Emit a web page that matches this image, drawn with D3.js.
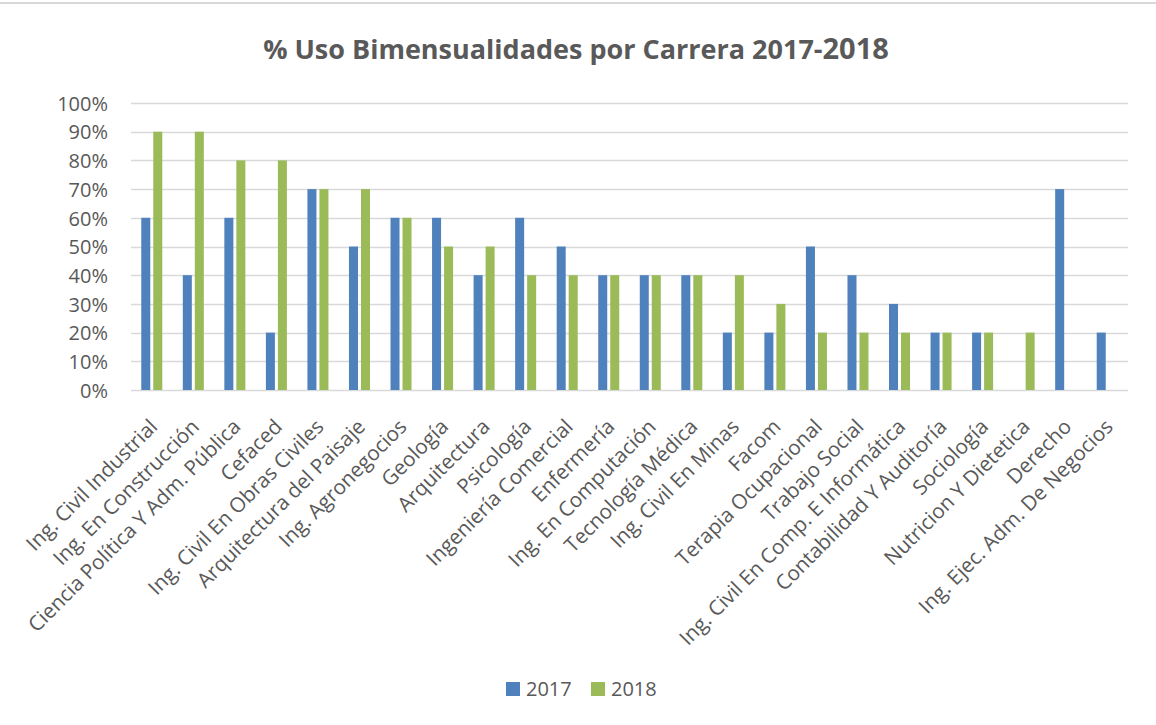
<!DOCTYPE html>
<html>
<head>
<meta charset="utf-8">
<script src="https://cdn.jsdelivr.net/npm/d3@7"></script>
<style>
  html, body { margin: 0; padding: 0; background: #fff; }
  svg { display: block; font-family: "Open Sans", sans-serif; }
</style>
</head>
<body>
<svg id="chart" width="1156" height="725"></svg>
<script>
const categories = [
  "Ing. Civil Industrial", "Ing. En Construcción", "Ciencia Política Y Adm. Pública",
  "Cefaced", "Ing. Civil En Obras Civiles", "Arquitectura del Paisaje",
  "Ing. Agronegocios", "Geología", "Arquitectura", "Psicología",
  "Ingeniería Comercial", "Enfermería", "Ing. En Computación", "Tecnología Médica",
  "Ing. Civil En Minas", "Facom", "Terapia Ocupacional", "Trabajo Social",
  "Ing. Civil En Comp. E Informática", "Contabilidad Y Auditoría", "Sociología",
  "Nutricion Y Dietetica", "Derecho", "Ing. Ejec. Adm. De Negocios"
];
const values2017 = [0.6, 0.4, 0.6, 0.2, 0.7, 0.5, 0.6, 0.6, 0.4, 0.6, 0.5, 0.4, 0.4, 0.4, 0.2, 0.2, 0.5, 0.4, 0.3, 0.2, 0.2, 0, 0.7, 0.2];
const values2018 = [0.9, 0.9, 0.8, 0.8, 0.7, 0.7, 0.6, 0.5, 0.5, 0.4, 0.4, 0.4, 0.4, 0.4, 0.4, 0.3, 0.2, 0.2, 0.2, 0.2, 0.2, 0.2, 0, 0];
const seriesNames = ["2017", "2018"];
const seriesColors = ["#4F81BD", "#9BBB59"];
const yTicks = [0, 0.1, 0.2, 0.3, 0.4, 0.5, 0.6, 0.7, 0.8, 0.9, 1.0];
const titleMain = "% Uso Bimensualidades por Carrera 2017-";
const titleTail = "2018";

const svg = d3.select("#chart");
const plotLeft = 131, plotRight = 1128, plotTop = 103, plotBottom = 390;
const textColor = "#595959";

// top border line
svg.append("rect").attr("x", 0).attr("y", 2).attr("width", 1156).attr("height", 2).attr("fill", "#d9d9d9");

const x = d3.scaleBand().domain(categories).range([plotLeft, plotRight]).paddingInner(0).paddingOuter(0);
const y = d3.scaleLinear().domain([0, 1]).range([plotBottom, plotTop]);

// gridlines
svg.append("g").selectAll("line").data(yTicks).join("line")
  .attr("x1", plotLeft).attr("x2", plotRight)
  .attr("y1", d => Math.round(y(d)) + 0.5).attr("y2", d => Math.round(y(d)) + 0.5)
  .attr("stroke", "#d9d9d9").attr("stroke-width", 1.5);

// y axis labels
const yAxis = d3.axisLeft(y).tickValues(yTicks).tickFormat(d3.format(".0%")).tickSize(0).tickPadding(0);
const yg = svg.append("g").attr("transform", `translate(108,0)`).call(yAxis);
yg.select(".domain").remove();
yg.selectAll("text").attr("fill", textColor).style("font-size", "20px").style("font-family", "Open Sans").attr("dy", "0.36em");

// bars
const bw = x.bandwidth();
const barW = bw * 0.217;
const gap = bw * 0.072;
const series = [values2017, values2018];
series.forEach((vals, si) => {
  svg.append("g").selectAll("rect").data(categories).join("rect")
    .attr("x", (c) => x(c) + bw / 2 + (si === 0 ? -gap / 2 - barW : gap / 2))
    .attr("y", (c, i) => y(vals[i]))
    .attr("width", barW)
    .attr("height", (c, i) => plotBottom - y(vals[i]))
    .attr("fill", seriesColors[si])
    .attr("display", (c, i) => vals[i] > 0 ? null : "none");
});

// x labels
const xAxis = d3.axisBottom(x).tickSize(0).tickPadding(0);
const xg = svg.append("g").attr("transform", `translate(0,${plotBottom})`).call(xAxis);
xg.select(".domain").remove();
xg.selectAll(".tick text")
  .attr("fill", textColor)
  .style("font-size", "20.6px").style("font-family", "Open Sans")
  .attr("text-anchor", "end")
  .attr("x", 0).attr("y", 0).attr("dy", 0)
  .attr("transform", "translate(7,38) rotate(-45)");

// title
const title = svg.append("text").attr("x", 576).attr("y", 59).attr("text-anchor", "middle")
  .attr("fill", textColor).style("font-weight", "bold").style("font-family", "Open Sans");
title.append("tspan").style("font-size", "27px").text(titleMain);
title.append("tspan").style("font-size", "29px").text(titleTail);

// legend
const legend = svg.append("g");
const legendX = [506, 591];
seriesNames.forEach((n, i) => {
  legend.append("rect").attr("x", legendX[i]).attr("y", 682).attr("width", 14).attr("height", 14).attr("fill", seriesColors[i]);
  legend.append("text").attr("x", legendX[i] + 20).attr("y", 696).attr("fill", textColor)
    .style("font-size", "20px").style("font-family", "Open Sans").text(n);
});
</script>
</body>
</html>
